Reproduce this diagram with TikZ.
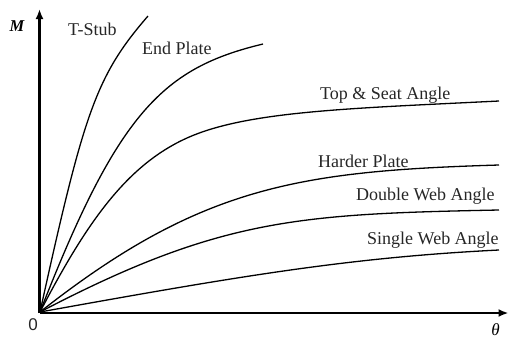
\documentclass[tikz,border=0pt]{standalone}
\usepackage{fontspec}
\setmainfont{Liberation Serif}
\newfontfamily\zerofont{Liberation Sans}
\usetikzlibrary{arrows.meta}
\tikzset{
  axisline/.style={line width=2.6pt, -{Latex[length=10pt,width=8pt]}},
  curveline/.style={line width=1.3pt},
  lbl/.style={anchor=base west, inner sep=0pt, text=black!85, font=\fontsize{18}{18}\selectfont},
}
\begin{document}
\begin{tikzpicture}[x=1pt,y=-1pt]
\useasboundingbox (0,0) rectangle (509,341);
\coordinate (O) at (39.5,313);
\coordinate (C) at (40,312);
\coordinate (Ytip) at (39.5,9);
\coordinate (Xtip) at (508.5,313);
\draw[axisline] (O) -- (Ytip);
\draw[axisline] (O) -- (Xtip);
% curves
\coordinate (tsEnd) at (148,16);
\coordinate (epEnd) at (263,44);
\coordinate (saMid) at (187,138);
\coordinate (saEnd) at (499,101);
\coordinate (hpEnd) at (499,165);
\coordinate (dwEnd) at (499,210);
\coordinate (swEnd) at (499,250);
\draw[curveline] (C) .. controls (84,112) and (96,76) .. (tsEnd);
\draw[curveline] (C) .. controls (118,112) and (163,68) .. (epEnd);
\draw[curveline] (C) .. controls (86.8,222) and (127,165) .. (saMid)
                     .. controls (247,111) and (349,108.5) .. (saEnd);
\draw[curveline] (C) .. controls (200,186) and (299,171) .. (hpEnd);
\draw[curveline] (C) .. controls (220,218) and (299,214) .. (dwEnd);
\draw[curveline] (C) .. controls (240,276) and (349,257.5) .. (swEnd);
% labels
\node[lbl] (tstub) at (68,35) {T-Stub};
\node[lbl] (endplate) at (142,54) {End Plate};
\node[lbl] (topseat) at (320,99.5) {Top \& Seat Angle};
\node[lbl] (harder) at (318,167.5) {Harder Plate};
\node[lbl] (double) at (356,200) {Double Web Angle};
\node[lbl] (single) at (367,244.5) {Single Web Angle};
\node[inner sep=0pt, anchor=base, font=\bfseries\itshape\fontsize{16.5}{16.5}\selectfont] (M) at (17,31.5) {M};
\node[inner sep=0pt, font=\itshape\fontsize{17}{17}\selectfont] (theta) at (495.5,330) {θ};
\node[inner sep=0pt, text=black!85, font=\zerofont\fontsize{17}{17}\selectfont] (zero) at (33,325) {0};
\end{tikzpicture}
\end{document}
